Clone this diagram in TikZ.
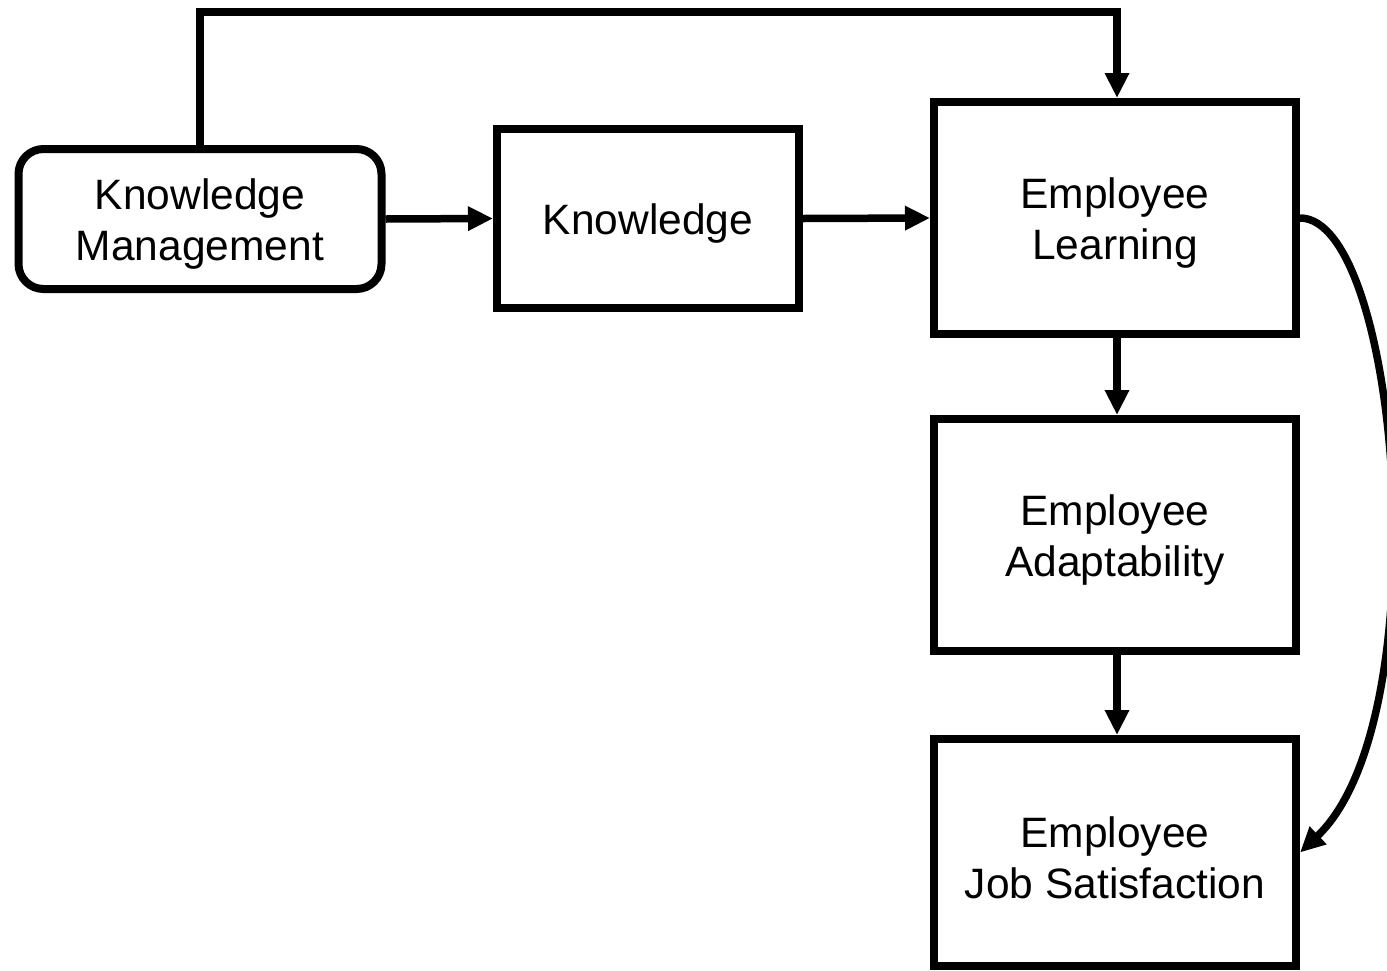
\documentclass[tikz,border=0pt]{standalone}
\usepackage{fontspec}
\setmainfont{Liberation Sans}
\usetikzlibrary{arrows.meta}
\newcommand{\tstrut}{\rule{0pt}{41pt}}
\begin{document}
\begin{tikzpicture}[x=1pt,y=-1pt,
  box/.style={draw=black,line width=8pt,fill=white,inner sep=0pt,align=center,
    font=\fontsize{42.5}{51}\selectfont},
  arr/.style={draw=black,line width=7.5pt,-{Triangle[length=25pt,width=23pt]}}]
\useasboundingbox (0,0) rectangle (1387,970);
\node[box,rounded corners=25pt,minimum width=363pt,minimum height=140pt] (km) at (200,219) {\tstrut Knowledge\\Management};
\node[box,minimum width=302pt,minimum height=179pt] (kn) at (648,218.5) {\tstrut Knowledge};
\node[box,minimum width=362pt,minimum height=232pt] (el) at (1115,218) {\tstrut Employee\\Learning};
\node[box,minimum width=362pt,minimum height=232pt] (ea) at (1115,535) {\tstrut Employee\\Adaptability};
\node[box,minimum width=362pt,minimum height=227pt] (js) at (1115,852.5) {\tstrut Employee\\Job Satisfaction};
\coordinate (top) at (0,12);
\draw[arr] (km.north) |- ([xshift=2pt]el.north |- top) -- ([xshift=2pt]el.north);
\draw[arr] (km.east) -- (kn.west);
\draw[arr] (kn.east) -- (el.west);
\draw[arr] ([xshift=2pt]el.south) -- ([xshift=2pt]ea.north);
\draw[arr] ([xshift=2pt]ea.south) -- ([xshift=2pt]js.north);
\draw[arr] (el.east) .. controls (1400,218) and (1440,720) .. (js.east);
\end{tikzpicture}
\end{document}
